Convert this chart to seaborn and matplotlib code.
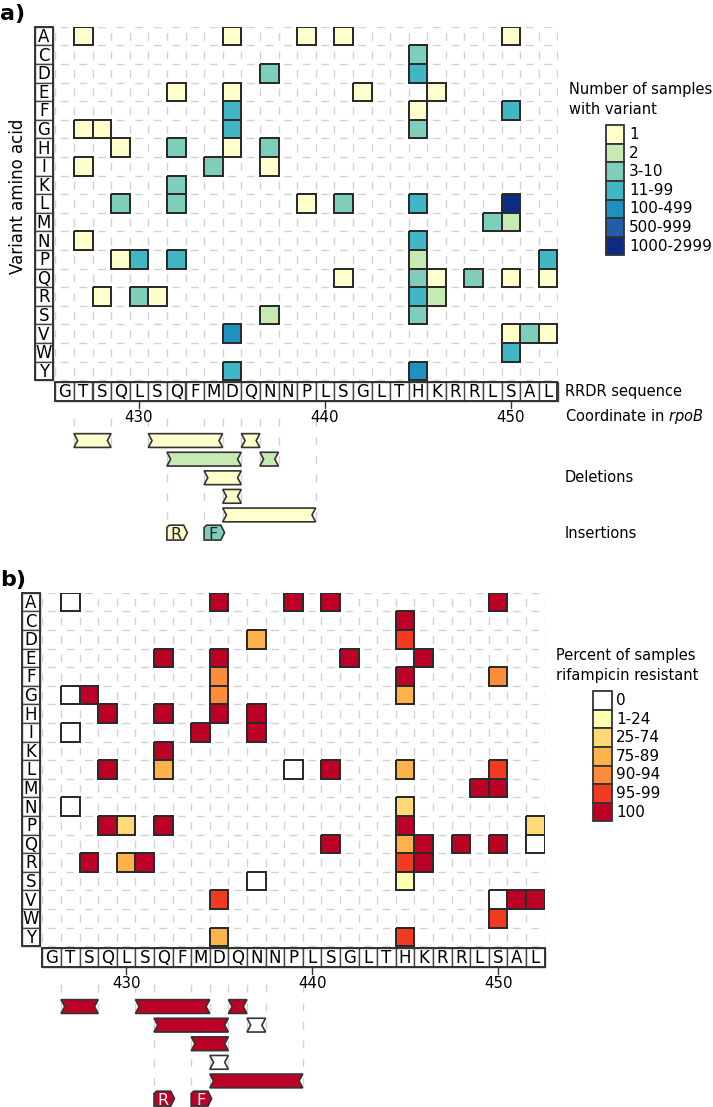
import numpy as np
import pandas as pd
import seaborn as sns
import matplotlib.pyplot as plt
from matplotlib.colors import ListedColormap, to_rgba
from matplotlib.patches import Rectangle, Polygon

# rpoB RRDR, codons 426-452
rrdr_seq = list("GTSQLSQFMDQNNPLSGLTHKRRLSAL")
first_codon = 426
aa_rows = list("ACDEFGHIKLMNPQRSVWY")
coord_ticks = [430, 440, 450]

# substitutions (variant amino acid, codon) with binned counts / % resistant
var_aa = (["A"] * 5 + ["C"] + ["D"] * 2 + ["E"] * 4 + ["F"] * 3 + ["G"] * 4 + ["H"] * 4
          + ["I"] * 3 + ["K"] + ["L"] * 6 + ["M"] * 2 + ["N"] * 2 + ["P"] * 5 + ["Q"] * 6
          + ["R"] * 5 + ["S"] * 2 + ["V"] * 4 + ["W"] + ["Y"] * 2)
var_pos = [427, 435, 439, 441, 450,
           445,
           437, 445,
           432, 435, 442, 446,
           435, 445, 450,
           427, 428, 435, 445,
           429, 432, 435, 437,
           427, 434, 437,
           432,
           429, 432, 439, 441, 445, 450,
           449, 450,
           427, 445,
           429, 430, 432, 445, 452,
           441, 445, 446, 448, 450, 452,
           428, 430, 431, 445, 446,
           437, 445,
           435, 450, 451, 452,
           450,
           435, 445]
var_count = ["1", "1", "1", "1", "1",
             "3-10",
             "3-10", "11-99",
             "1", "1", "1", "1",
             "11-99", "1", "11-99",
             "1", "1", "11-99", "3-10",
             "1", "3-10", "1", "3-10",
             "1", "3-10", "1",
             "3-10",
             "3-10", "3-10", "1", "3-10", "11-99", "1000-2999",
             "3-10", "2",
             "1", "11-99",
             "1", "11-99", "11-99", "2", "11-99",
             "1", "3-10", "1", "3-10", "1", "1",
             "1", "3-10", "1", "11-99", "2",
             "2", "3-10",
             "100-499", "1", "3-10", "1",
             "11-99",
             "11-99", "100-499"]
var_resist = ["0", "100", "100", "100", "100",
              "100",
              "75-89", "95-99",
              "100", "100", "100", "100",
              "90-94", "100", "90-94",
              "0", "100", "90-94", "75-89",
              "100", "100", "100", "100",
              "0", "100", "100",
              "100",
              "100", "75-89", "0", "100", "75-89", "95-99",
              "100", "100",
              "0", "25-74",
              "100", "25-74", "100", "100", "25-74",
              "100", "75-89", "100", "100", "100", "0",
              "100", "75-89", "100", "95-99", "100",
              "0", "1-24",
              "95-99", "0", "100", "100",
              "95-99",
              "75-89", "95-99"]

# deletions (first codon, last codon, track)
del_start = [427, 431, 436, 432, 437, 434, 435, 435]
del_end = [428, 434, 436, 435, 437, 435, 435, 439]
del_track = [0, 0, 0, 1, 1, 2, 3, 4]
del_count = ["1", "1", "1", "2", "2", "1", "1", "1"]
del_resist = ["100", "100", "100", "100", "0", "100", "0", "100"]

# insertions
ins_pos = [432, 434]
ins_aa = ["R", "F"]
ins_count = ["1", "3-10"]
ins_resist = ["100", "100"]

count_bins = ["1", "2", "3-10", "11-99", "100-499", "500-999", "1000-2999"]
resist_bins = ["0", "1-24", "25-74", "75-89", "90-94", "95-99", "100"]
count_colors = ["#ffffcc", "#c7e9b4", "#7fcdbb", "#41b6c4", "#1d91c0", "#225ea8", "#0c2c84"]
resist_colors = ["#ffffff", "#ffffb2", "#fed976", "#feb24c", "#fd8d3c", "#f03b20", "#bd0026"]

sns.set_theme(style="white")
plt.rcParams["font.family"] = ["DejaVu Sans"]
plt.rcParams["text.color"] = "black"
plt.rcParams["lines.scale_dashes"] = False

W, H, DPI = 713, 1107, 100
CELL = 18.6                     # px per codon / row
CELL_PT = CELL * 72 / DPI
EDGE = "#2b2b2b"
GRID = "#d2d2d2"
YMAX = 27.65
LANE0 = 22.25
INS_Y = 27.2


def dash(start, center, on=0.42):
    # dashes of length `on` (cell units) centred on center + k
    s = (center - on / 2 - start) % 1.0
    return (((1 - s) % 1.0) * CELL_PT, (on * CELL_PT, (1 - on) * CELL_PT))


def draw_panel(ax, cell_vals, bins, colors, title, del_vals, ins_vals, ins_txt, side_labels):
    codes = [bins.index(v) for v in cell_vals]
    df = (pd.DataFrame({"aa": var_aa, "pos": var_pos, "code": codes})
          .pivot(index="aa", columns="pos", values="code")
          .reindex(index=aa_rows, columns=range(first_codon, first_codon + len(rrdr_seq))))
    nrow, ncol = df.shape

    sns.heatmap(df, ax=ax, cmap=ListedColormap(colors), vmin=-0.5, vmax=len(colors) - 0.5,
                cbar=False, linewidths=1.1, linecolor=EDGE,
                xticklabels=False, yticklabels=False)
    # outline only the observed cells
    mesh = ax.collections[0]
    present = df.notna().to_numpy().ravel()
    mesh.set_edgecolors([to_rgba(EDGE) if p else (0, 0, 0, 0) for p in present])
    mesh.set_zorder(2)
    ax.set_xlim(0, ncol)
    ax.set_ylim(YMAX, 0)
    ax.set_axis_off()

    # dashed background grid
    for y in range(nrow + 1):
        ax.plot([0, ncol], [y, y], color=GRID, lw=1.0, ls=dash(0, 0.5), zorder=0.5)
    for x in range(ncol + 1):
        ax.plot([x, x], [0, nrow], color=GRID, lw=1.0, ls=dash(0, 0.5), zorder=0.5)

    # variant amino acid boxes
    for i, aa in enumerate(aa_rows):
        ax.add_patch(Rectangle((-1.1, i), 0.98, 1, facecolor="white", edgecolor="#444444",
                               lw=1.0, clip_on=False))
        ax.text(-0.61, i + 0.82, aa, ha="center", va="baseline", fontsize=12)
    ax.add_patch(Rectangle((-1.1, 0), 0.98, nrow, fill=False, edgecolor="#333333",
                           lw=1.4, clip_on=False))

    # RRDR sequence boxes
    y0 = nrow + 0.12
    for i, aa in enumerate(rrdr_seq):
        ax.add_patch(Rectangle((i, y0), 1, 1, facecolor="white", edgecolor="#444444",
                               lw=1.0, clip_on=False))
        ax.text(i + 0.5, y0 + 0.8, aa, ha="center", va="baseline", fontsize=12)
    ax.add_patch(Rectangle((0, y0), ncol, 1, fill=False, edgecolor="#333333",
                           lw=1.4, clip_on=False))
    for t in coord_ticks:
        x = t - first_codon + 0.5
        ax.plot([x, x], [y0 + 1, y0 + 1.38], color="#333333", lw=1.0, clip_on=False)
        ax.text(x, 21.26, str(t), ha="center", va="baseline", fontsize=10.8)

    # dashed guides below sequence
    bounds = {}
    for s, e, t in zip(del_start, del_end, del_track):
        for b in (s - first_codon, e - first_codon + 1):
            bounds[b] = max(bounds.get(b, -1), LANE0 + t)
    for p in ins_pos:
        b = p - first_codon
        bounds[b] = max(bounds.get(b, -1), INS_Y)
    for b, ylow in bounds.items():
        ax.plot([b, b], [20.7, ylow + 0.3], color=GRID, lw=1.0, ls=dash(20.7, LANE0),
                zorder=0.5, clip_on=False)

    # deletions
    h, d = 0.74, 0.2
    for s, e, t, v in zip(del_start, del_end, del_track, del_vals):
        x0, x1, y = s - first_codon, e - first_codon + 1, LANE0 + t
        pts = [(x0, y - h / 2), (x1, y - h / 2), (x1 - d, y), (x1, y + h / 2),
               (x0, y + h / 2), (x0 + d, y)]
        ax.add_patch(Polygon(pts, closed=True, facecolor=colors[bins.index(v)],
                             edgecolor="#333333", lw=1.2, clip_on=False, zorder=3))

    # insertions
    hi, c = 0.8, 0.13
    for p, aa, v in zip(ins_pos, ins_aa, ins_vals):
        x0, y = p - first_codon, INS_Y
        pts = [(x0, y + hi / 2), (x0, y - hi / 2 + c), (x0 + c, y - hi / 2),
               (x0 + 0.9, y - hi / 2), (x0 + 1.1, y), (x0 + 0.9, y + hi / 2)]
        ax.add_patch(Polygon(pts, closed=True, facecolor=colors[bins.index(v)],
                             edgecolor="#333333", lw=1.2, clip_on=False, zorder=3))
        ax.text(x0 + 0.5, y + 0.36, aa, ha="center", va="baseline", fontsize=11.5,
                color=ins_txt, zorder=4)

    # legend
    ax.text(27.6, 3.6, title[0], ha="left", va="baseline", fontsize=10.5)
    ax.text(27.6, 4.7, title[1], ha="left", va="baseline", fontsize=10.5)
    for k, (lab, col) in enumerate(zip(bins, colors)):
        ax.add_patch(Rectangle((29.6, 5.3 + k), 1.0, 1.0, facecolor=col, edgecolor="#333333",
                               lw=1.3, clip_on=False))
        ax.text(30.85, 5.8 + k, lab, ha="left", va="center", fontsize=11)

    if side_labels:
        ax.text(27.4, 19.88, "RRDR sequence", ha="left", va="baseline", fontsize=10.5)
        ax.text(27.4, 21.2, r"Coordinate in $\it{rpoB}$", ha="left", va="baseline", fontsize=10.5)
        ax.text(27.4, 24.48, "Deletions", ha="left", va="baseline", fontsize=10.5)
        ax.text(27.4, 27.5, "Insertions", ha="left", va="baseline", fontsize=10.5)
        ax.text(-2.0, 9.1, "Variant amino acid", rotation=90, ha="center", va="center",
                fontsize=12)


fig = plt.figure(figsize=(W / DPI, H / DPI), dpi=DPI)


def px_axes(left, top):
    w, h = 27 * CELL, YMAX * CELL
    return fig.add_axes([left / W, 1 - (top + h) / H, w / W, h / H])


ax_a = px_axes(55.3, 26.7)
draw_panel(ax_a, var_count, count_bins, count_colors,
           ("Number of samples", "with variant"), del_count, ins_count, "#222222", True)

ax_b = px_axes(42.4, 592.7)
draw_panel(ax_b, var_resist, resist_bins, resist_colors,
           ("Percent of samples", "rifampicin resistant"), del_resist, ins_resist, "white", False)

fig.text(0.0, 1 - 20 / H, "a)", fontsize=16, fontweight="bold", ha="left", va="baseline")
fig.text(0.0, 1 - 586 / H, "b)", fontsize=16, fontweight="bold", ha="left", va="baseline")

fig.savefig("out.png", dpi=DPI, facecolor="white")
